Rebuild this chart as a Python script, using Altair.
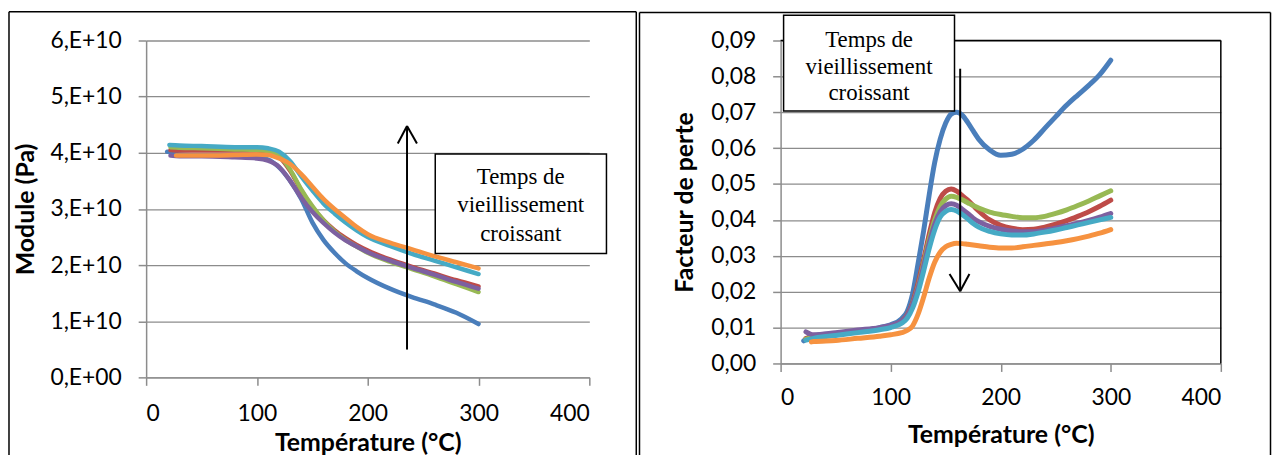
import altair as alt
import pandas as pd

# ---------------- data ----------------
series_names = ["Série 1", "Série 2", "Série 3", "Série 4", "Série 5", "Série 6"]
series_colors = ["#4A7EBB", "#BE4B48", "#98B954", "#7D60A0", "#46AAC5", "#F69240"]

# Left panel: storage modulus (unit 1e10 Pa) vs temperature (°C)
temp_left = [22, 30, 50, 80, 100, 110, 120, 130, 140, 150, 160, 170, 180, 190, 200, 220, 240, 260, 280, 300]
start_left = [19, 22, 22, 22, 21, 27]
mod_s1 = [4.02, 3.97, 3.95, 3.94, 3.92, 3.88, 3.74, 3.50, 3.18, 2.76, 2.45, 2.22, 2.03, 1.89, 1.77, 1.58, 1.43, 1.30, 1.15, 0.95]
mod_s2 = [4.05, 4.04, 4.04, 4.04, 4.04, 4.02, 3.93, 3.68, 3.33, 3.03, 2.80, 2.62, 2.48, 2.36, 2.26, 2.10, 1.97, 1.85, 1.73, 1.62]
mod_s3 = [4.10, 4.09, 4.08, 4.06, 4.05, 4.03, 3.95, 3.70, 3.35, 3.05, 2.80, 2.60, 2.45, 2.33, 2.22, 2.06, 1.93, 1.80, 1.66, 1.52]
mod_s4 = [3.95, 3.94, 3.94, 3.92, 3.90, 3.86, 3.75, 3.50, 3.20, 2.95, 2.75, 2.58, 2.44, 2.33, 2.23, 2.08, 1.95, 1.83, 1.70, 1.58]
mod_s5 = [4.14, 4.13, 4.12, 4.10, 4.10, 4.08, 4.02, 3.85, 3.58, 3.33, 3.10, 2.92, 2.76, 2.62, 2.50, 2.34, 2.20, 2.08, 1.96, 1.84]
mod_s6 = [3.95, 3.95, 3.95, 3.96, 3.97, 3.96, 3.90, 3.80, 3.62, 3.40, 3.18, 3.00, 2.84, 2.68, 2.55, 2.40, 2.28, 2.16, 2.05, 1.94]

# Right panel: loss factor vs temperature (°C)
temp_right = [22, 30, 50, 70, 90, 100, 110, 115, 120, 125, 130, 135, 140, 145, 150, 155, 160, 165, 170,
              175, 180, 190, 200, 210, 220, 230, 240, 250, 260, 270, 280, 290, 300]
start_right = [21, 23, 23, 23, 23, 28]
tan_s1 = [.0063, .0078, .0083, .0090, .0100, .0108, .0125, .0145, .0195, .0280, .0370, .0470, .0560, .0625, .0670, .0695,
          .0700, .0692, .0672, .0648, .0625, .0595, .0580, .0583, .0597, .0622, .0655, .0688, .0720, .0748, .0775, .0805, .0845]
tan_s2 = [.0070, .0075, .0082, .0090, .0098, .0104, .0118, .0135, .0170, .0225, .0290, .0360, .0420, .0460, .0480, .0486,
          .0480, .0468, .0455, .0440, .0425, .0400, .0385, .0377, .0373, .0374, .0380, .0388, .0398, .0410, .0423, .0438, .0455]
tan_s3 = [.0068, .0073, .0080, .0088, .0096, .0102, .0116, .0132, .0165, .0215, .0278, .0345, .0400, .0438, .0458, .0466,
          .0463, .0456, .0448, .0440, .0433, .0422, .0415, .0410, .0406, .0406, .0410, .0418, .0428, .0440, .0453, .0467, .0481]
tan_s4 = [.0088, .0080, .0086, .0093, .0100, .0106, .0118, .0133, .0165, .0212, .0272, .0335, .0388, .0423, .0440, .0445,
          .0441, .0430, .0418, .0405, .0395, .0382, .0374, .0369, .0367, .0367, .0371, .0377, .0384, .0391, .0399, .0408, .0418]
tan_s5 = [.0065, .0070, .0078, .0086, .0094, .0100, .0112, .0126, .0155, .0200, .0258, .0320, .0372, .0408, .0424, .0429,
          .0425, .0415, .0403, .0390, .0380, .0368, .0361, .0358, .0358, .0361, .0366, .0372, .0379, .0386, .0393, .0400, .0407]
tan_s6 = [.0060, .0061, .0064, .0070, .0076, .0080, .0086, .0092, .0105, .0138, .0185, .0238, .0282, .0310, .0325, .0332,
          .0335, .0334, .0332, .0330, .0328, .0324, .0322, .0322, .0325, .0329, .0333, .0337, .0342, .0348, .0355, .0363, .0373]

annotation_lines = ["Temps de", "vieillissement", "croissant"]
x_ticks = [0, 100, 200, 300, 400]
y_ticks_left = [0, 1e10, 2e10, 3e10, 4e10, 5e10, 6e10]
y_ticks_right = [0.0, 0.01, 0.02, 0.03, 0.04, 0.05, 0.06, 0.07, 0.08, 0.09]


def build(temps, starts, series, scale=1.0):
    rows = []
    for i, (name, vals) in enumerate(zip(series_names, series)):
        for j, (t, v) in enumerate(zip(temps, vals)):
            rows.append({"serie": name, "ordre": i, "T": starts[i] if j == 0 else t, "val": v * scale})
    return pd.DataFrame(rows)


df_left = build(temp_left, start_left, [mod_s1, mod_s2, mod_s3, mod_s4, mod_s5, mod_s6], 1e10)
df_right = build(temp_right, start_right, [tan_s1, tan_s2, tan_s3, tan_s4, tan_s5, tan_s6])
one = pd.DataFrame({"k": [0]})

GRID = "#8C8C8C"
color_enc = alt.Color("serie:N", scale=alt.Scale(domain=series_names, range=series_colors), legend=None)


def vrule(x, y1, y2, w=1.5):
    return alt.Chart(one).mark_rule(color="black", strokeWidth=w).encode(
        x=alt.value(x), y=alt.value(y1), y2=alt.value(y2))


def hrule(x1, x2, y, w=1.5):
    return alt.Chart(one).mark_rule(color="black", strokeWidth=w).encode(
        x=alt.value(x1), x2=alt.value(x2), y=alt.value(y))


def seg(x1, y1, x2, y2, w=2):
    return alt.Chart(one).mark_rule(color="black", strokeWidth=w).encode(
        x=alt.value(x1), x2=alt.value(x2), y=alt.value(y1), y2=alt.value(y2))


def box(x1, x2, y1, y2):
    return alt.Chart(one).mark_rect(fill="white", stroke="black", strokeWidth=1.5).encode(
        x=alt.value(x1), x2=alt.value(x2), y=alt.value(y1), y2=alt.value(y2))


def label(x, y, lh):
    return alt.Chart(one).mark_text(
        text=annotation_lines, font="Liberation Serif", fontSize=23, lineHeight=lh,
        align="center", baseline="middle", color="black").encode(x=alt.value(x), y=alt.value(y))


# ---------------- left panel ----------------
WL, HL = 446, 339
lines_left = alt.Chart(df_left).mark_line(strokeWidth=4.5, interpolate="monotone", strokeCap="round").encode(
    x=alt.X("T:Q", scale=alt.Scale(domain=[0, 400], nice=False),
            axis=alt.Axis(values=x_ticks, grid=False, title="Température (°C)", labelPadding=17,
                          titleY=65.5, titleBaseline="middle")),
    y=alt.Y("val:Q", scale=alt.Scale(domain=[0, 6e10], nice=False),
            axis=alt.Axis(values=y_ticks_left, grid=True, title="Module (Pa)", labelPadding=17,
                          labelExpr="datum.value == 0 ? '0,E+00' : format(datum.value / 1e10, 'd') + ',E+10'",
                          titleX=-121.7, titleY=HL / 2, titleAngle=270, titleBaseline="middle")),
    color=color_enc,
    order=alt.Order("T:Q"),
)

left = alt.layer(
    lines_left,
    vrule(-138, -29, 429), hrule(-138, 493.25, -29), vrule(493.25, -29, 429),
    box(290.95, 463.25, 114.3, 214.3),
    label(377, 137.7, 28.3),
    vrule(262.55, 86, 311, 2), seg(253.25, 103.7, 262.55, 86), seg(272.55, 103.7, 262.55, 86),
).properties(width=WL, height=HL)

# ---------------- right panel ----------------
WR, HR = 443, 325
lines_right = alt.Chart(df_right).mark_line(strokeWidth=5, interpolate="monotone", strokeCap="round").encode(
    x=alt.X("T:Q", scale=alt.Scale(domain=[0, 400], nice=False),
            axis=alt.Axis(values=x_ticks, grid=False, title="Température (°C)", labelPadding=15,
                          titleY=72, titleBaseline="middle")),
    y=alt.Y("val:Q", scale=alt.Scale(domain=[0, 0.09], nice=False),
            axis=alt.Axis(values=y_ticks_right, grid=True, title="Facteur de perte", labelPadding=17,
                          labelExpr="replace(format(datum.value, '.2f'), '.', ',')",
                          titleX=-97, titleY=HR / 2, titleAngle=270, titleBaseline="middle")),
    color=color_enc,
    order=alt.Order("T:Q"),
)

right = alt.layer(
    lines_right,
    hrule(0, WR, 0), vrule(WR, 0, HR),
    vrule(-142, -28.3, 430), hrule(-142, 493, -28.3), vrule(493, -28.3, 430),
    box(3, 175, -25.3, 71),
    label(89, -0.3, 26.8),
    vrule(180.7, 28.4, 252.4, 2), seg(170, 235, 180.7, 252.4), seg(190, 235, 180.7, 252.4),
).properties(width=WR, height=HR)

chart = alt.hconcat(left, right, spacing=1.5).resolve_scale(
    x="independent", y="independent"
).properties(
    padding={"left": 0, "top": 1.25, "right": 0, "bottom": 0},
    background="white",
).configure_view(strokeWidth=0).configure_axis(
    domainColor=GRID, domainWidth=1.5, gridColor=GRID, gridWidth=1.3,
    tickColor=GRID, tickWidth=1.5, tickSize=8,
    labelFont="Lato", labelFontSize=23, labelColor="black",
    titleFont="Lato", titleFontSize=25, titleFontWeight="bold", titleColor="black",
)

chart.save("out.html", embed_options={"renderer": "svg", "actions": False})
